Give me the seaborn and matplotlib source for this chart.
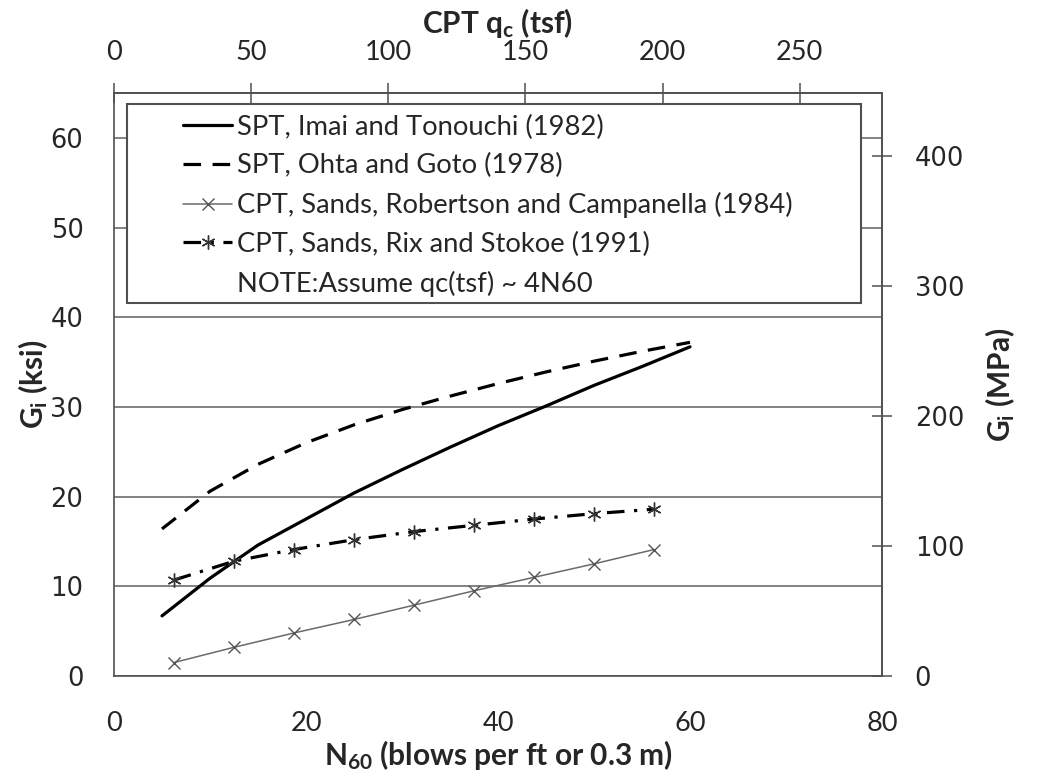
import matplotlib
matplotlib.use("Agg")
import matplotlib.pyplot as plt
from matplotlib.lines import Line2D
from matplotlib.patches import Rectangle
import pandas as pd
import seaborn as sns

# Blow count N60 and small-strain shear modulus Gi (ksi)
n_spt = [5, 10, 15, 20, 25, 30, 35, 40, 45, 50, 55, 60]
g_imai = [6.7, 10.9, 14.6, 17.5, 20.4, 23.0, 25.5, 27.9, 30.1, 32.4, 34.5, 36.7]
g_ohta = [16.4, 20.6, 23.6, 26.0, 28.0, 29.7, 31.2, 32.6, 33.9, 35.1, 36.2, 37.2]
n_cpt = [6.25, 12.5, 18.75, 25, 31.25, 37.5, 43.75, 50, 56.25]
g_robertson = [1.5, 3.2, 4.8, 6.3, 7.9, 9.5, 11.0, 12.5, 14.1]
g_rix = [10.7, 12.8, 14.1, 15.2, 16.1, 16.8, 17.5, 18.1, 18.6]

labels = [
    "SPT, Imai and Tonouchi (1982)",
    "SPT, Ohta and Goto (1978)",
    "CPT, Sands, Robertson and Campanella (1984)",
    "CPT, Sands, Rix and Stokoe (1991)",
]
note = "NOTE:Assume qc(tsf) ~ 4N60"

x_ticks = [0, 20, 40, 60, 80]
y_ticks = [0, 10, 20, 30, 40, 50, 60]
qc_ticks = [0, 50, 100, 150, 200, 250]
mpa_ticks = [0, 100, 200, 300, 400]

QC_PER_N = 3.5
MPA_PER_KSI = 6.895

sns.set_style("white")
plt.rcParams["font.family"] = ["Lato", "DejaVu Sans"]
plt.rcParams["mathtext.fontset"] = "custom"
plt.rcParams["mathtext.rm"] = "Lato:bold"
plt.rcParams["mathtext.it"] = "Lato:bold"
plt.rcParams["mathtext.bf"] = "Lato:bold"

W, H = 1037, 773
fig = plt.figure(figsize=(W / 100, H / 100), dpi=100)
ax = fig.add_axes([114 / W, 1 - 676 / H, (882 - 114) / W, (676 - 93) / H])

spine_c = "#505050"
grid_c = "#606060"
title_fs = 21.5
tick_fs = 19.5
num_fs = 18.5

df_imai = pd.DataFrame({"N": n_spt, "G": g_imai})
df_ohta = pd.DataFrame({"N": n_spt, "G": g_ohta})
df_rob = pd.DataFrame({"N": n_cpt, "G": g_robertson})
df_rix = pd.DataFrame({"N": n_cpt, "G": g_rix})

sns.lineplot(data=df_imai, x="N", y="G", ax=ax, color="black", lw=2.3,
             label=labels[0], zorder=4)
sns.lineplot(data=df_ohta, x="N", y="G", ax=ax, color="black", lw=2.3,
             label=labels[1], zorder=4)
ax.lines[-1].set_linestyle((0, (5.5, 3.6)))
sns.lineplot(data=df_rob, x="N", y="G", ax=ax, color="#6a6a6a", lw=1.1,
             marker="x", markersize=8, markeredgewidth=1.0,
             markeredgecolor="#555555", label=labels[2], zorder=4)
sns.lineplot(data=df_rix, x="N", y="G", ax=ax, color="black", lw=2.3,
             marker=(6, 2, 0), markersize=10, markeredgewidth=1.0,
             markeredgecolor="#333333", label=labels[3], zorder=4)
ax.lines[-1].set_linestyle((0, (5.5, 3.0, 1.0, 3.0)))

ax.set_xlim(0, 80)
ax.set_ylim(0, 65)
ax.set_xticks(x_ticks)
ax.set_yticks(y_ticks)
ax.set_xlabel(r"N$_{60}$ (blows per ft or 0.3 m)", fontsize=title_fs,
              fontweight="bold", labelpad=2)
ax.set_ylabel(r"G$_{\mathrm{i}}$ (ksi)", fontsize=title_fs, fontweight="bold",
              labelpad=0)
ax.grid(axis="y", color=grid_c, lw=1.1)
ax.grid(axis="x", visible=False)
for s in ax.spines.values():
    s.set_color(spine_c)
    s.set_linewidth(1.2)
ax.tick_params(axis="x", direction="out", length=8, width=1.1, color=spine_c,
               labelsize=tick_fs, pad=17)
ax.tick_params(axis="y", direction="out", length=8, width=1.1, color=spine_c,
               pad=14)
for t in ax.get_yticklabels():
    t.set_fontfamily("DejaVu Sans")
    t.set_fontsize(num_fs)

top = ax.secondary_xaxis("top", functions=(lambda n: n * QC_PER_N,
                                           lambda q: q / QC_PER_N))
top.set_xticks(qc_ticks)
top.tick_params(direction="inout", length=15, width=1.1, color=spine_c,
                labelsize=tick_fs, pad=13)
top.set_xlabel(r"CPT q$_{\mathrm{c}}$ (tsf)", fontsize=title_fs,
               fontweight="bold", labelpad=5)
top.spines["top"].set_color(spine_c)
top.spines["top"].set_linewidth(1.2)

right = ax.secondary_yaxis("right", functions=(lambda k: k * MPA_PER_KSI,
                                               lambda m: m / MPA_PER_KSI))
right.set_yticks(mpa_ticks)
right.tick_params(direction="inout", length=15, width=1.1, color=spine_c, pad=16)
for t in right.get_yticklabels():
    t.set_fontfamily("DejaVu Sans")
    t.set_fontsize(num_fs)
right.set_ylabel(r"G$_{\mathrm{i}}$ (MPa)", fontsize=title_fs,
                 fontweight="bold", labelpad=14)
right.spines["right"].set_color(spine_c)
right.spines["right"].set_linewidth(1.2)

# Legend drawn inside a framed white box
handles, _ = ax.get_legend_handles_labels()
handles = list(handles) + [Line2D([], [], linestyle="none")]
leg_labels = labels + [note]
ax.get_legend().remove()
box = Rectangle((0.0169, 0.6398), 0.9558, 0.3413, transform=ax.transAxes,
                facecolor="white", edgecolor=spine_c, lw=1.5, zorder=5)
ax.add_patch(box)
leg = ax.legend(handles, leg_labels, loc="upper left",
                bbox_to_anchor=(0.0898, 0.963), frameon=False,
                fontsize=19.7, handlelength=1.8, handletextpad=0.18,
                labelspacing=0.5, borderpad=0.0, borderaxespad=0.0)
leg.set_zorder(6)

fig.savefig("out.png", dpi=100, facecolor="white")
